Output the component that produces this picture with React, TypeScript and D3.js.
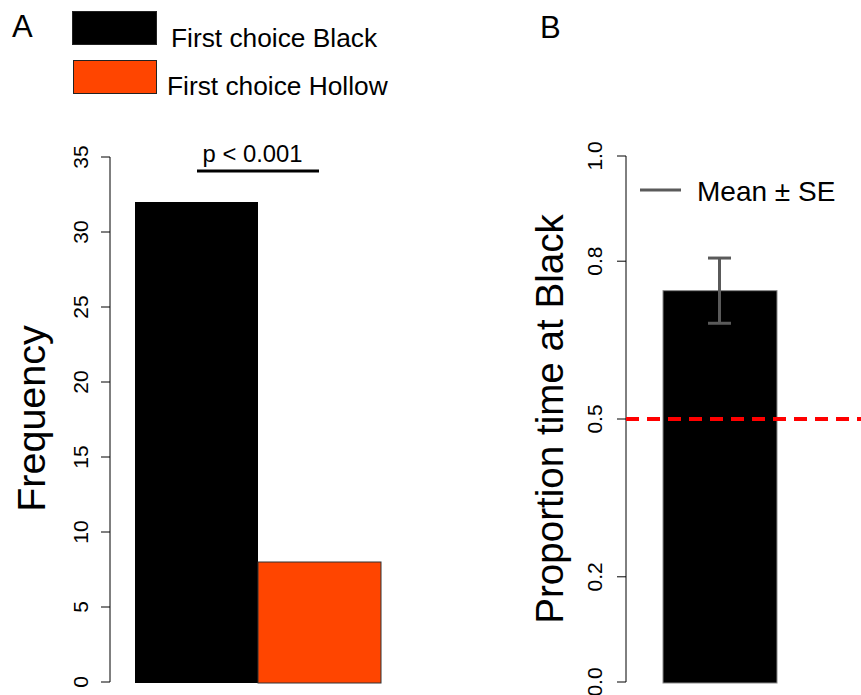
import React from "react";
import * as d3 from "d3";

const freqCategories = ["First choice Black", "First choice Hollow"];
const freqValues = [32, 8];
const freqColors = ["#000000", "#FF4500"];
const freqTicks = [0, 5, 10, 15, 20, 25, 30, 35];
const pValueLabel = "p < 0.001";

const propCategories = ["Black"];
const propMeans = [0.744];
const propSE = [0.062];
const propTicks = [0, 0.2, 0.5, 0.8, 1.0];
const propTickLabels = ["0.0", "0.2", "0.5", "0.8", "1.0"];
const chanceLevel = 0.5;

const FONT = "'Liberation Sans', Arial, Helvetica, sans-serif";

export default function App() {
  const W = 861;
  const H = 695;

  // Panel A scales
  const yA = d3.scaleLinear().domain([0, 35]).range([682, 157]);
  const xA = d3.scaleBand<string>().domain(freqCategories).range([135, 381]).padding(0);
  const axisAx = 110;

  // Panel B scales
  const yB = d3.scaleLinear().domain([0, 1]).range([682, 156]);
  const xB = d3.scaleBand<string>().domain(propCategories).range([663, 777]).padding(0);
  const axisBx = 626;

  return (
    <svg
      width={W}
      height={H}
      style={{ position: "absolute", left: 0, top: 0, background: "#fff" }}
      fontFamily={FONT}
    >
      {/* Panel letters */}
      <text x={12} y={37} fontSize={31}>A</text>
      <text x={540} y={38} fontSize={31}>B</text>

      {/* Legend A */}
      {freqCategories.map((c, i) => (
        <g key={c}>
          <rect
            x={i === 0 ? 72.5 : 73.5}
            y={i === 0 ? 11.5 : 60.5}
            width={i === 0 ? 84 : 83}
            height={33}
            fill={freqColors[i]}
            stroke="#222"
            strokeWidth={1}
          />
          <text x={i === 0 ? 171 : 167} y={i === 0 ? 47 : 95} fontSize={26.3} fill="#000">
            {c}
          </text>
        </g>
      ))}

      {/* Panel A axis */}
      <line x1={axisAx} x2={axisAx} y1={yA(0)} y2={yA(35)} stroke="#000" strokeWidth={1} />
      {freqTicks.map((t) => (
        <g key={t}>
          <line x1={axisAx - 9} x2={axisAx} y1={yA(t)} y2={yA(t)} stroke="#000" strokeWidth={1} />
          <text
            transform={`translate(${axisAx - 22},${yA(t)}) rotate(-90)`}
            textAnchor="middle"
            fontSize={21}
          >
            {t}
          </text>
        </g>
      ))}
      <text
        transform={`translate(45,${(yA(0) + yA(35)) / 2 - 1}) rotate(-90)`}
        textAnchor="middle"
        fontSize={39.5}
      >
        Frequency
      </text>

      {/* Panel A bars */}
      {freqCategories.map((c, i) => (
        <rect
          key={c}
          x={xA(c)!}
          y={yA(freqValues[i])}
          width={xA.bandwidth()}
          height={yA(0) - yA(freqValues[i]) + 1}
          fill={freqColors[i]}
          stroke={i === 0 ? "none" : "#333"}
          strokeWidth={1}
        />
      ))}

      {/* Significance */}
      <line x1={197} x2={319} y1={171} y2={171} stroke="#000" strokeWidth={3} />
      <text x={252.5} y={162} textAnchor="middle" fontSize={23.8}>
        {pValueLabel}
      </text>

      {/* Panel B axis */}
      <line x1={axisBx} x2={axisBx} y1={yB(0)} y2={yB(1)} stroke="#000" strokeWidth={1} />
      {propTicks.map((t, i) => (
        <g key={t}>
          <line x1={axisBx - 9} x2={axisBx} y1={yB(t)} y2={yB(t)} stroke="#000" strokeWidth={1} />
          <text
            transform={`translate(${axisBx - 24},${yB(t)}) rotate(-90)`}
            textAnchor="middle"
            fontSize={21}
          >
            {propTickLabels[i]}
          </text>
        </g>
      ))}
      <text
        transform={`translate(563,${(yB(0) + yB(1)) / 2 + 0}) rotate(-90)`}
        textAnchor="middle"
        fontSize={38.6}
      >
        Proportion time at Black
      </text>

      {/* Panel B bar */}
      {propCategories.map((c, i) => (
        <rect
          key={c}
          x={xB(c)!}
          y={yB(propMeans[i])}
          width={xB.bandwidth()}
          height={yB(0) - yB(propMeans[i]) + 1}
          fill="#000"
          stroke="#888"
          strokeWidth={1}
        />
      ))}

      {/* Chance line */}
      <line
        x1={axisBx}
        x2={W}
        y1={yB(chanceLevel)}
        y2={yB(chanceLevel)}
        stroke="#FF0000"
        strokeWidth={4}
        strokeDasharray="13,8"
      />

      {/* Error bars */}
      {propCategories.map((c, i) => {
        const cx = xB(c)! + xB.bandwidth() / 2 - 0.5;
        const hi = yB(propMeans[i] + propSE[i]);
        const lo = yB(propMeans[i] - propSE[i]);
        return (
          <g key={c} stroke="#5a5a5a" strokeWidth={3}>
            <line x1={cx} x2={cx} y1={hi} y2={lo} />
            <line x1={cx - 11.5} x2={cx + 11.5} y1={hi} y2={hi} />
            <line x1={cx - 11.5} x2={cx + 11.5} y1={lo} y2={lo} />
          </g>
        );
      })}

      {/* Legend B */}
      <line x1={640} x2={681} y1={190} y2={190} stroke="#5a5a5a" strokeWidth={3} />
      <text x={697} y={201} fontSize={28}>
        Mean ± SE
      </text>
    </svg>
  );
}
